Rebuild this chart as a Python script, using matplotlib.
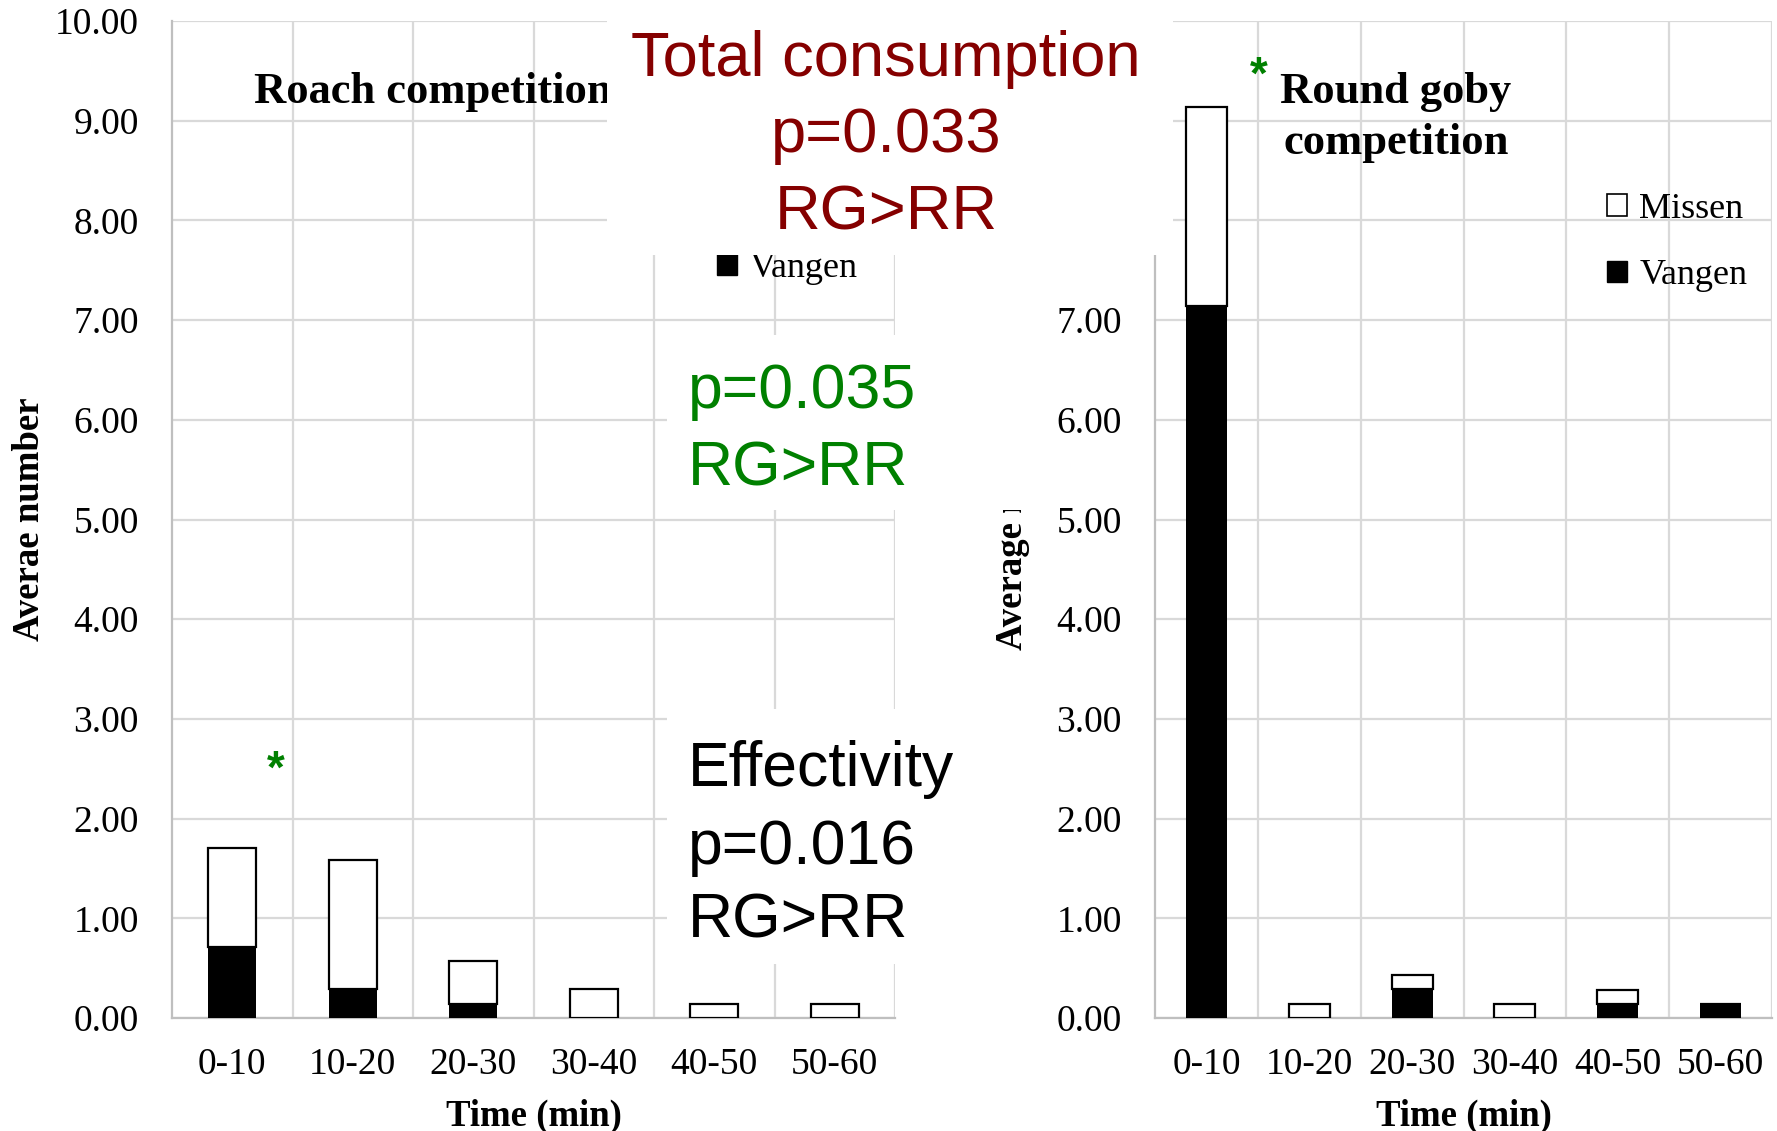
import matplotlib
matplotlib.use("Agg")
import matplotlib.pyplot as plt
from matplotlib.patches import Rectangle, Patch
from matplotlib.ticker import FormatStrFormatter

# ---------------- data ----------------
time_bins = ["0-10", "10-20", "20-30", "30-40", "40-50", "50-60"]
roach_vangen = [0.71, 0.29, 0.14, 0.00, 0.00, 0.00]
roach_missen = [1.00, 1.29, 0.43, 0.29, 0.14, 0.14]
goby_vangen = [7.14, 0.00, 0.29, 0.00, 0.14, 0.14]
goby_missen = [2.00, 0.14, 0.14, 0.14, 0.14, 0.00]
y_ticks = [0, 1, 2, 3, 4, 5, 6, 7, 8, 9, 10]
series_names = ["Missen", "Vangen"]

# ---------------- layout helpers ----------------
W, H, DPI = 1777, 1131, 100
SERIF = ["Liberation Serif", "DejaVu Serif"]
SANS = ["Liberation Sans", "DejaVu Sans"]
GRID = "#d9d9d9"
AXIS = "#bfbfbf"


def fx(x):
    return x / W


def fy(y):
    return 1 - y / H


def rect(x0, y0, x1, y1):
    return [fx(x0), fy(y1), (x1 - x0) / W, (y1 - y0) / H]


fig = plt.figure(figsize=(W / DPI, H / DPI), dpi=DPI)
fig.patch.set_facecolor("white")


def panel(box, vangen, missen, ylabel, ylabel_x, leg_xy):
    ax = fig.add_axes(rect(*box))
    xs = list(range(len(time_bins)))
    ax.bar(xs, vangen, width=0.4, color="black", edgecolor="none", zorder=3)
    ax.bar(xs, missen, width=0.4, bottom=vangen, color="white",
           edgecolor="black", linewidth=1.6, zorder=3)
    ax.set_xlim(-0.5, len(time_bins) - 0.5)
    ax.set_ylim(0, 10)
    ax.set_yticks(y_ticks)
    ax.yaxis.set_major_formatter(FormatStrFormatter("%.2f"))
    ax.set_xticks(xs)
    ax.set_xticklabels(time_bins)
    ax.set_xticks([i + 0.5 for i in xs], minor=True)
    ax.grid(axis="y", which="major", color=GRID, lw=1.6, zorder=0)
    ax.grid(axis="x", which="minor", color=GRID, lw=1.6, zorder=0)
    ax.grid(axis="x", which="major", visible=False)
    ax.set_axisbelow(True)
    ax.tick_params(which="both", length=0)
    ax.tick_params(axis="y", pad=24, labelsize=27)
    ax.tick_params(axis="x", pad=21, labelsize=27)
    for lab in ax.get_xticklabels() + ax.get_yticklabels():
        lab.set_fontfamily(SERIF)
    for s in ("top", "right"):
        ax.spines[s].set_visible(False)
    for s in ("left", "bottom"):
        ax.spines[s].set_color(AXIS)
        ax.spines[s].set_linewidth(1.6)
    ax.set_xlabel("Time (min)", fontfamily=SERIF, fontsize=26.5,
                  fontweight="bold", va="top")
    ax.xaxis.set_label_coords(0.5, -0.081)
    ax.set_ylabel(ylabel, fontfamily=SERIF, fontsize=26.5,
                  fontweight="bold", va="center")
    ax.yaxis.set_label_coords(ylabel_x, 0.5)
    handles = [Patch(facecolor="white", edgecolor="black", lw=1.2, label=series_names[0]),
               Patch(facecolor="black", edgecolor="black", label=series_names[1])]
    ax.legend(handles=handles, loc="upper left",
              bbox_to_anchor=(fx(leg_xy[0]), fy(leg_xy[1])),
              bbox_transform=fig.transFigure, frameon=False,
              prop=dict(family=SERIF, size=26),
              handlelength=0.55, handleheight=0.55, handletextpad=0.35,
              labelspacing=0.92, borderaxespad=0, borderpad=0)
    return ax


ax1 = panel((172, 21, 895, 1018), roach_vangen, roach_missen,
            "Averae number", (30 - 172) / 723, (717, 186))
ax2 = panel((1155, 21, 1772, 1018), goby_vangen, goby_missen,
            "Average number", (1013 - 1155) / 617, (1607, 193))

# panel titles
fig.text(fx(254), fy(103), "Roach competition", fontfamily=SERIF, fontsize=32,
         fontweight="bold", va="baseline", ha="left", zorder=4)
fig.text(fx(1396), fy(103), "Round goby", fontfamily=SERIF, fontsize=32,
         fontweight="bold", va="baseline", ha="center", zorder=4)
fig.text(fx(1396), fy(154), "competition", fontfamily=SERIF, fontsize=32,
         fontweight="bold", va="baseline", ha="center", zorder=4)

# significance asterisks
fig.text(fx(276), fy(783), "*", color="#008000", fontfamily=SANS, fontsize=33,
         fontweight="bold", ha="center", va="baseline", zorder=4)
fig.text(fx(1259), fy(89), "*", color="#008000", fontfamily=SANS, fontsize=33,
         fontweight="bold", ha="center", va="baseline", zorder=4)

# white overlay boxes
for (x0, y0, x1, y1) in [(607, 0, 1173, 255), (667, 335, 1048, 510), (667, 709, 1048, 964)]:
    fig.add_artist(Rectangle((fx(x0), fy(y1)), (x1 - x0) / W, (y1 - y0) / H,
                             transform=fig.transFigure, facecolor="white",
                             edgecolor="none", zorder=10))

# annotation texts
RED = "#850000"
for txt, yb in [("Total consumption", 76), ("p=0.033", 152), ("RG>RR", 229)]:
    fig.text(fx(886), fy(yb), txt, color=RED, fontfamily=SANS, fontsize=45.5,
             ha="center", va="baseline", zorder=11)
for txt, yb in [("p=0.035", 408), ("RG>RR", 485)]:
    fig.text(fx(688), fy(yb), txt, color="#008000", fontfamily=SANS, fontsize=45,
             ha="left", va="baseline", zorder=11)
for txt, yb in [("Effectivity", 786), ("p=0.016", 864), ("RG>RR", 938)]:
    fig.text(fx(688), fy(yb), txt, color="black", fontfamily=SANS, fontsize=45,
             ha="left", va="baseline", zorder=11)

fig.savefig("out.png", dpi=DPI, facecolor="white")
